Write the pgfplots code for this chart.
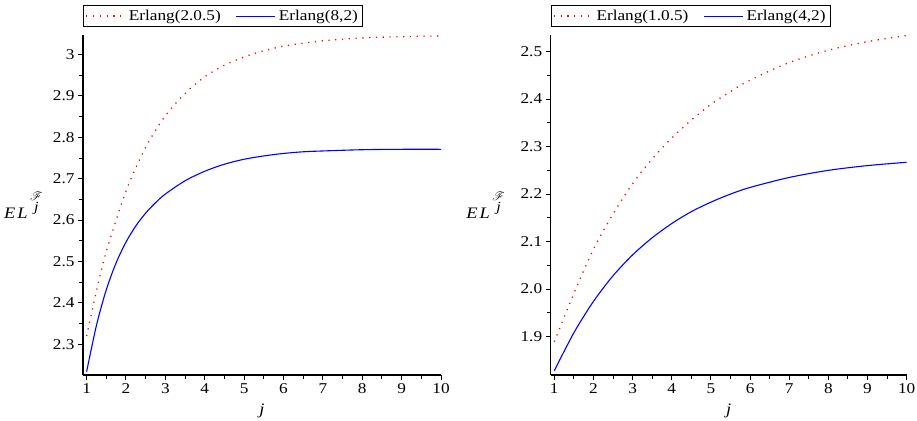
\documentclass[border=0pt]{standalone}
\usepackage{fontspec}
\setmainfont{Liberation Serif}[FakeStretch=1.15]
\usepackage{amsmath}
\usepackage{mathrsfs}
\usepackage{pgfplots}
\pgfplotsset{compat=1.18}

% left panel
\pgfplotstableread{
x y
1 2.320
1.25 2.429
1.5 2.524
2 2.670
2.5 2.776
3 2.852
3.5 2.906
4 2.946
4.5 2.974
5 2.994
5.5 3.009
6 3.020
6.5 3.027
7 3.033
8 3.040
9 3.043
10 3.045
}\erlangA
\pgfplotstableread{
x y
1 2.234
1.25 2.346
1.5 2.432
1.75 2.497
2 2.547
2.25 2.586
2.5 2.617
2.75 2.642
3 2.663
3.5 2.695
4 2.718
4.5 2.735
5 2.747
5.5 2.755
6 2.761
6.5 2.765
7 2.767
8 2.770
9 2.771
10 2.771
}\erlangB
% right panel
\pgfplotstableread{
x y
1 1.889
1.5 1.991
2 2.084
2.5 2.158
3 2.222
3.5 2.274
4 2.318
4.5 2.356
5 2.389
5.5 2.416
6 2.440
7 2.477
8 2.503
9 2.521
10 2.534
}\erlangC
\pgfplotstableread{
x y
1 1.828
1.5 1.908
2 1.974
2.5 2.028
3 2.072
3.5 2.108
4 2.138
4.5 2.163
5 2.183
5.5 2.200
6 2.214
7 2.235
8 2.250
9 2.260
10 2.267
}\erlangD

\pgfplotsset{
  erl/.style={
    scale only axis, height=340pt,
    axis lines=left, axis line style={-, line width=1.1pt},
    xmin=0.908, xmax=10, xtick={1,...,10},
    minor x tick num=1, minor y tick num=1,
    tick align=outside, major tick length=5pt, minor tick length=4pt,
    tick style={black, line width=1pt},
    every tick label/.append style={font=\fontsize{15}{15}\selectfont},
    /pgf/number format/assume math mode=true,
    xlabel={\textit{j}},
    xlabel style={font=\fontsize{16}{16}\selectfont, at={(axis description cs:0.5,0)}, anchor=center, yshift=-36pt},
    ylabel={\textit{E\kern2pt L}\,\raisebox{7pt}{\shortstack{\fontsize{12}{12}\selectfont$\mathscr{F}$\\[-1pt]\fontsize{14}{14}\selectfont\textit{j}}}},
    ylabel style={font=\fontsize{16}{16}\selectfont, rotate=-90, anchor=east},
    legend columns=2,
    legend image code/.code={\draw[##1] (0pt,0pt) -- (39pt,0pt);},
    legend style={at={(0,1)}, anchor=south west, yshift=8pt, draw=black, line width=1pt,
      font=\fontsize{15}{15}\selectfont, inner xsep=2pt, inner ysep=1pt,
      nodes={inner xsep=3pt, inner ysep=3.5pt}},
    /tikz/every even column/.append style={column sep=12pt},
    red dots/.style={draw=red, line width=1.3pt, dash pattern=on 1.2pt off 5.6pt, smooth},
    blue line/.style={draw=blue, line width=1.1pt, smooth},
  }
}

\begin{document}
\begin{tikzpicture}
\useasboundingbox (0,0) rectangle (917pt,-420pt);

\begin{axis}[erl, at={(83pt,-375pt)}, anchor=south west, width=358pt,
  ymin=2.226, ymax=3.047,
  ytick={2.3,2.4,2.5,2.6,2.7,2.8,2.9,3},
  yticklabels={2.3,2.4,2.5,2.6,2.7,2.8,2.9,3},
  ylabel style={at={(axis description cs:-0.103,0.5)}}]
\addplot[red dots] table[x=x, y=y] {\erlangA};
\addlegendentry{Erlang(2.0.5)}
\addplot[blue line] table[x=x, y=y] {\erlangB};
\addlegendentry{Erlang(8,2)}
\end{axis}

\begin{axis}[erl, at={(550.7pt,-375pt)}, anchor=south west, width=356pt,
  ymin=1.819, ymax=2.535,
  ytick={1.9,2.0,2.1,2.2,2.3,2.4,2.5},
  yticklabels={1.9,2.0,2.1,2.2,2.3,2.4,2.5},
  ylabel style={at={(axis description cs:-0.119,0.5)}}]
\addplot[red dots] table[x=x, y=y] {\erlangC};
\addlegendentry{Erlang(1.0.5)}
\addplot[blue line] table[x=x, y=y] {\erlangD};
\addlegendentry{Erlang(4,2)}
\end{axis}
\end{tikzpicture}
\end{document}
